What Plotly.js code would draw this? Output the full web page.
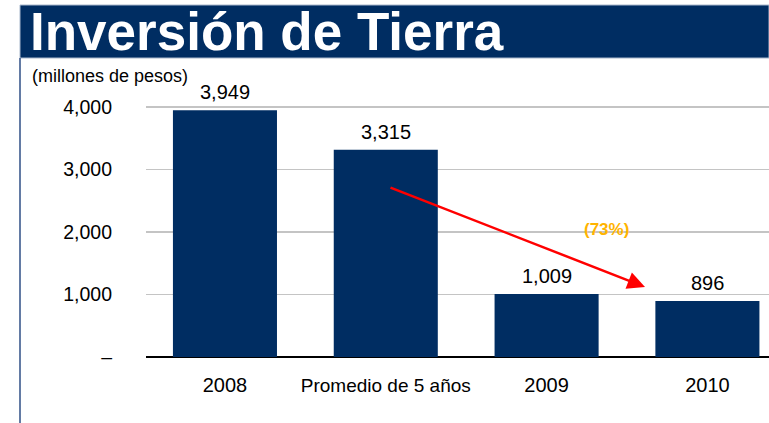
<!DOCTYPE html>
<html>
<head>
<meta charset="utf-8">
<script src="https://cdn.plot.ly/plotly-3.0.1.min.js"></script>
<style>
  html, body { margin: 0; padding: 0; background: #ffffff; }
  #chart { width: 769px; height: 423px; }
</style>
</head>
<body>
<div id="chart"></div>
<script>
// ---- data ----
const categories = ["2008", "Promedio de 5 años", "2009", "2010"];
const categoryLabels = ["2008", "<span style='font-size:19px'>Promedio de 5 años</span>", "2009", "2010"];
const values = [3949, 3315, 1009, 896];
const valueLabels = ["3,949", "3,315", "1,009", "896"];
const yTickVals = [0, 1000, 2000, 3000, 4000];
const yTickText = ["–", "1,000", "2,000", "3,000", "4,000"];
const changeLabel = "(73%)";

const navy = "#002D62";
const font = "Liberation Sans, Arial, sans-serif";

// plot area geometry (pixels)
const W = 769, H = 423;
const L = 146, R = 0, T = 76, B = 66;
const pw = W - L - R, ph = H - T - B;
const px = v => (v - L) / pw;          // pixel x -> paper x
const py = v => (H - B - v) / ph;      // pixel y -> paper y

const trace = {
  type: "bar",
  x: categories,
  y: values,
  marker: { color: navy, line: { width: 0 } },
  width: 0.647,
  cliponaxis: false,
  hoverinfo: "skip"
};

// value labels above bars (category axis: position by category index)
const valueAnnotations = categories.map((c, i) => ({
  xref: "x", yref: "y", x: i, y: values[i],
  xanchor: "center", yanchor: "bottom", yshift: 5,
  showarrow: false, text: valueLabels[i],
  font: { family: font, size: 20, color: "#000000" }
}));

const layout = {
  width: W, height: H,
  margin: { l: L, r: R, t: T, b: B, pad: 0 },
  paper_bgcolor: "#ffffff",
  plot_bgcolor: "#ffffff",
  showlegend: false,
  font: { family: font, color: "#000000" },
  title: {
    text: "Inversión de Tierra",
    font: { family: font, size: 53, color: "#ffffff", weight: "bold" },
    xref: "container", yref: "container",
    x: 30 / W, xanchor: "left",
    y: 1 - 31 / H, yanchor: "middle",
    pad: { t: 0, b: 0, l: 0, r: 0 }
  },
  xaxis: {
    type: "category",
    categoryorder: "array",
    categoryarray: categories,
    tickvals: categories,
    ticktext: categoryLabels,
    range: [-0.491, 3.383],
    showgrid: false,
    zeroline: false,
    showline: false,
    ticks: "",
    ticklabelstandoff: 14,
    tickfont: { family: font, size: 20, color: "#000000" },
    fixedrange: true
  },
  yaxis: {
    range: [0, 4496],
    tickvals: yTickVals,
    ticktext: yTickText,
    showgrid: true,
    gridcolor: "#C4C4C4",
    gridwidth: 1.5,
    zeroline: true,
    zerolinecolor: "#000000",
    zerolinewidth: 1.5,
    showline: false,
    ticks: "",
    ticklabelstandoff: 33,
    tickfont: { family: font, size: 19.5, color: "#000000" },
    fixedrange: true
  },
  shapes: [
    { type: "rect", xref: "paper", yref: "paper", layer: "below",
      x0: px(20), x1: px(769), y0: py(58), y1: py(5),
      fillcolor: navy, line: { color: "#A9B8CC", width: 1 } },
    { type: "line", xref: "paper", yref: "paper",
      x0: px(20), x1: px(20), y0: py(58), y1: py(423),
      line: { color: "#2F4F86", width: 1.5 } }
  ],
  annotations: valueAnnotations.concat([
    { xref: "paper", yref: "paper", x: px(30), y: py(76),
      xanchor: "left", yanchor: "middle", showarrow: false,
      text: "(millones de pesos)",
      font: { family: font, size: 18, color: "#000000" } },
    { xref: "x", yref: "y", axref: "x", ayref: "y",
      x: 2.612, y: 1120, ax: 1.02, ay: 2720,
      text: "", showarrow: true, arrowhead: 2, arrowsize: 1.4,
      arrowwidth: 2.5, arrowcolor: "#FF0000", standoff: 0, startstandoff: 0 },
    { xref: "x", yref: "y", x: 2.37, y: 2040,
      xanchor: "center", yanchor: "middle", showarrow: false,
      text: "<b>" + changeLabel + "</b>",
      font: { family: font, size: 17, color: "#FFB400" } }
  ])
};

Plotly.newPlot("chart", [trace], layout, { staticPlot: true, displayModeBar: false });
</script>
</body>
</html>
